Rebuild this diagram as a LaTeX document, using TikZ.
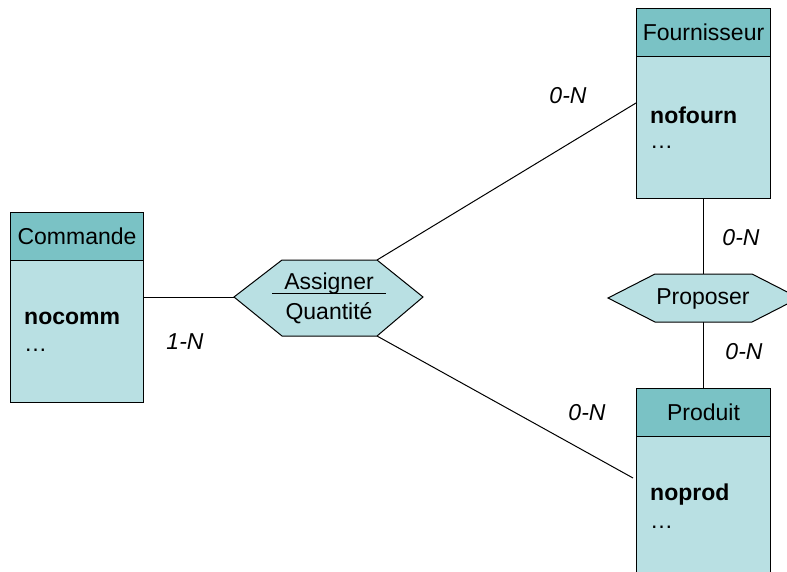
\documentclass[tikz,border=0pt]{standalone}
\usepackage{fontspec}
\setmainfont{Liberation Sans}
\definecolor{hdrcol}{RGB}{122,194,197}
\definecolor{bodycol}{RGB}{185,224,227}
\begin{document}
\begin{tikzpicture}[x=1pt,y=-1pt,
  font=\fontsize{23}{27}\selectfont,
  hdr/.style={draw=black, fill=hdrcol, line width=1pt, minimum width=134pt, minimum height=48pt, anchor=north west, inner sep=0pt},
  bodybox/.style={draw=black, fill=bodycol, line width=1pt, minimum width=134pt, anchor=north west, inner sep=0pt},
  attr/.style={anchor=west, inner sep=0pt, font=\fontsize{23}{27}\selectfont\bfseries},
  dots/.style={anchor=west, inner sep=0pt},
  card/.style={inner sep=0pt, font=\fontsize{23}{27}\selectfont\itshape},
  link/.style={draw=black, line width=1pt},
  rel/.style={draw=black, fill=bodycol, line width=1pt}]
\useasboundingbox (0,0) rectangle (787,571);
\clip (0,0) rectangle (787,571);
\fill[white] (0,0) rectangle (787,571);

% Commande
\node[bodybox, minimum width=133pt, minimum height=142pt] (commB) at (10,260) {};
\node[hdr, minimum width=133pt] (commH) at (10,212) {Commande};
\node[attr] (commA) at (24,318) {nocomm};
\node[dots] (commD) at (24,350) {\dots};

% Fournisseur
\node[bodybox, minimum height=142pt] (fourB) at (636,56) {};
\node[hdr] (fourH) at (636,8) {Fournisseur};
\node[attr] (fourA) at (650,115) {nofourn};
\node[dots] (fourD) at (650,147) {\dots};

% Produit
\node[bodybox, minimum height=150pt] (prodB) at (636,436) {};
\node[hdr] (prodH) at (636,388) {Produit};
\node[attr] (prodA) at (650,495) {noprod};
\node[dots] (prodD) at (650,527) {\dots};

% Assigner hexagon coordinates
\coordinate (aL) at (234,297);
\coordinate (aTL) at (282,260);
\coordinate (aTR) at (377,260);
\coordinate (aR) at (423,297);
\coordinate (aBR) at (377,336);
\coordinate (aBL) at (282,336);
% Proposer hexagon coordinates
\coordinate (pL) at (608,298);
\coordinate (pTL) at (655,274);
\coordinate (pTR) at (752,274);
\coordinate (pR) at (799,298);
\coordinate (pBR) at (752,322);
\coordinate (pBL) at (655,322);
\coordinate (pT) at (703,274);
\coordinate (pB) at (703,322);
\coordinate (fIn) at (636,103);
\coordinate (prIn) at (633,478);

% connectors
\draw[link] (aL -| commB.east) -- (aL);
\draw[link] (aTR) -- (fIn);
\draw[link] (aBR) -- (prIn);
\draw[link] (pT |- fourB.south) -- (pT);
\draw[link] (pB) -- (pB |- prodH.north);

% relationships
\draw[rel] (aL) -- (aTL) -- (aTR) -- (aR) -- (aBR) -- (aBL) -- cycle;
\node[inner sep=0pt] (assT) at (329,284) {Assigner};
\node[inner sep=0pt] (assQ) at (329,313) {Quantité};
\coordinate (uL) at (272,293);
\coordinate (uR) at (386,293);
\draw[line width=0.8pt] (uL) -- (uR);

\draw[rel] (pL) -- (pTL) -- (pTR) -- (pR) -- (pBR) -- (pBL) -- cycle;
\node[inner sep=0pt] (propT) at (703,299) {Proposer};

% cardinalities
\node[card] (c1) at (568,96) {0-N};
\node[card] (c2) at (741,238) {0-N};
\node[card] (c3) at (744,352) {0-N};
\node[card] (c4) at (185,342) {1-N};
\node[card] (c5) at (587,413) {0-N};
\end{tikzpicture}
\end{document}
